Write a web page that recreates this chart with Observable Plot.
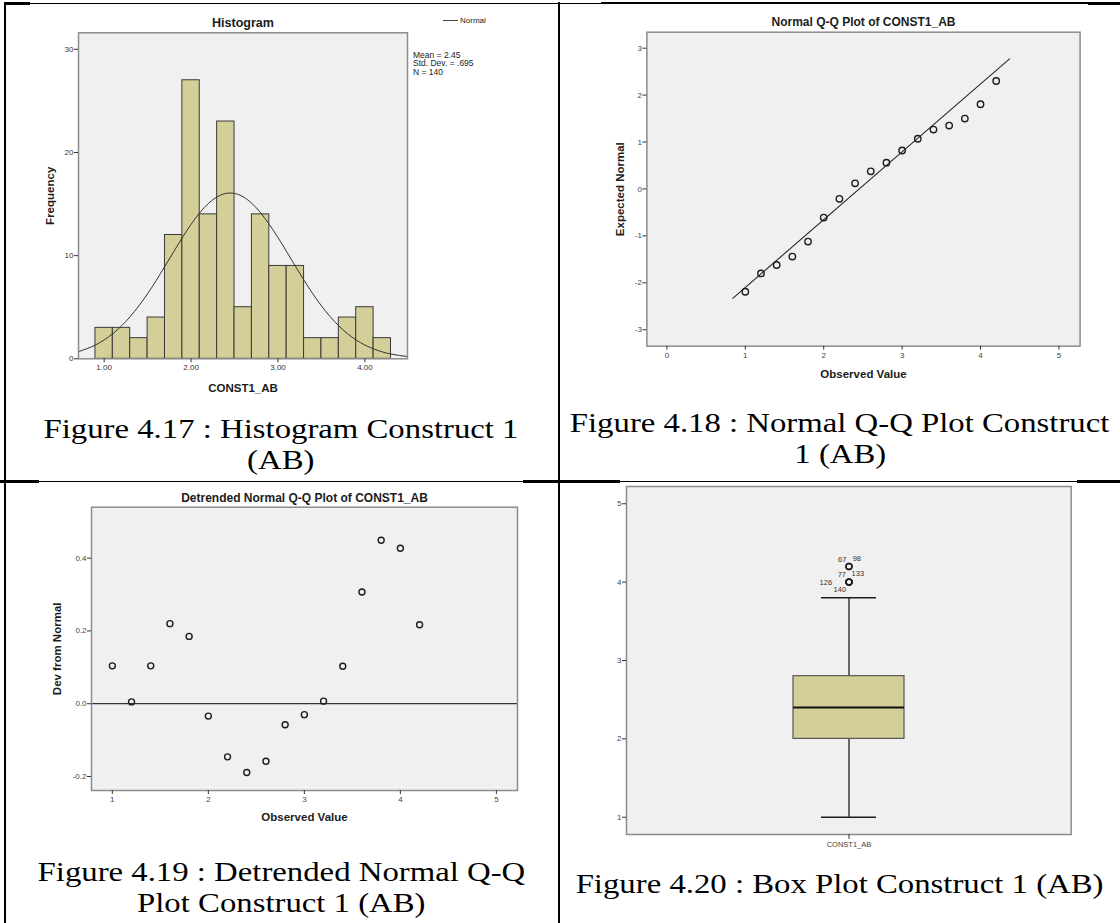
<!DOCTYPE html>
<html>
<head>
<meta charset="utf-8">
<script src="https://cdn.jsdelivr.net/npm/d3@7"></script>
<script src="https://cdn.jsdelivr.net/npm/@observablehq/plot@0.6"></script>
<style>
  html, body { margin: 0; padding: 0; background: #fff; }
  #page { position: relative; width: 1120px; height: 923px; overflow: hidden; background: #fff; }
  .cell { position: absolute; }
  .cell svg { overflow: visible; display: block; }
  .caption { position: absolute; width: 560px; text-align: center; white-space: nowrap;
             font-family: "Liberation Serif", "Times New Roman", serif; font-size: 28px; line-height: 31px; color: #000; }
  .caption span { display: inline-block; transform: scaleX(1.17); transform-origin: center; }
  .bd { position: absolute; background: #000; }
  .legend { position: absolute; font-family: "Liberation Sans", Arial, sans-serif; font-size: 8px; color: #222; }
</style>
</head>
<body>
<div id="page"></div>
<script>
// ---------------- DATA ----------------
// Figure 4.17 histogram
const histBinStart = [0.9, 1.1, 1.3, 1.5, 1.7, 1.9, 2.1, 2.3, 2.5, 2.7, 2.9, 3.1, 3.3, 3.5, 3.7, 3.9, 4.1];
const histBinEnd   = [1.1, 1.3, 1.5, 1.7, 1.9, 2.1, 2.3, 2.5, 2.7, 2.9, 3.1, 3.3, 3.5, 3.7, 3.9, 4.1, 4.3];
const histCounts   = [3, 3, 2, 4, 12, 27, 14, 23, 5, 14, 9, 9, 2, 2, 4, 5, 2];
const histXTicks   = [1, 2, 3, 4];
const histYTicks   = [0, 10, 20, 30];
// normal curve
const normalCurveX = [0.7, 0.9, 1.1, 1.3, 1.5, 1.7, 1.9, 2.1, 2.3, 2.5, 2.7, 2.9, 3.1, 3.3, 3.5, 3.7, 3.9, 4.1, 4.3, 4.5];
const normalCurveY = [0.68, 1.34, 2.44, 4.09, 6.31, 8.98, 11.75, 14.16, 15.70, 16.03, 15.06, 13.03, 10.38, 7.61, 5.13, 3.19, 1.82, 0.96, 0.46, 0.21];
const histStats = ["Mean = 2.45", "Std. Dev. = .695", "N = 140"];

// Figure 4.18 / 4.19 Q-Q data
const observedValue  = [1.0, 1.2, 1.4, 1.6, 1.8, 2.0, 2.2, 2.4, 2.6, 2.8, 3.0, 3.2, 3.4, 3.6, 3.8, 4.0, 4.2];
const expectedNormal = [-2.19, -1.80, -1.62, -1.44, -1.12, -0.61, -0.21, 0.12, 0.375, 0.56, 0.82, 1.07, 1.265, 1.35, 1.50, 1.805, 2.30];
const devFromNormal  = [0.104, 0.005, 0.104, 0.220, 0.185, -0.034, -0.146, -0.189, -0.158, -0.058, -0.030, 0.007, 0.103, 0.307, 0.449, 0.427, 0.217];
const qqLineX = [0.84, 4.37];
const qqLineY = [-2.33, 2.77];
const qqXTicks = [0, 1, 2, 3, 4, 5];
const qqYTicks = [-3, -2, -1, 0, 1, 2, 3];
const dtXTicks = [1, 2, 3, 4, 5];
const dtYTicks = [-0.2, 0.0, 0.2, 0.4];

// Figure 4.20 box plot
const boxCategory = ["CONST1_AB"];
const boxLow    = [1.0];
const boxQ1     = [2.0];
const boxMedian = [2.4];
const boxQ3     = [2.8];
const boxHigh   = [3.8];
const outlierValues = [4.2, 4.2, 4.0, 4.0, 4.0, 4.0];
const outlierIds    = ["67", "98", "77", "133", "126", "140"];
const boxYTicks = [1, 2, 3, 4, 5];

// ---------------- LAYOUT / STYLE ----------------
const page = document.getElementById("page");
const FONT = "'Liberation Sans', Arial, Helvetica, sans-serif";
const BG = "#f0f0f0";
const FRAME = "#8c8c8c";
const TAN = "#d4cf98";
const INK = "#1c1c1c";
const intFmt = d => (d < 0 ? "-" : "") + Math.abs(d).toFixed(0);
const oneFmt = d => (d < 0 ? "-" : "") + Math.abs(d).toFixed(1);

function place(el, left, top) {
  const d = document.createElement("div");
  d.className = "cell";
  d.style.left = left + "px";
  d.style.top = top + "px";
  d.appendChild(el);
  page.appendChild(d);
}
function caption(lines, cx, firstCenter) {
  const d = document.createElement("div");
  d.className = "caption";
  d.style.left = (cx - 280) + "px";
  d.style.top = (firstCenter - 15.5) + "px";
  lines.forEach((t, i) => {
    if (i) d.appendChild(document.createElement("br"));
    const s = document.createElement("span");
    s.textContent = t;
    d.appendChild(s);
  });
  page.appendChild(d);
}
function bar(x, y, w, h) {
  const d = document.createElement("div");
  d.className = "bd";
  Object.assign(d.style, {left: x + "px", top: y + "px", width: w + "px", height: h + "px"});
  page.appendChild(d);
}
const titleMark = (t, dy, size) => Plot.text([t], {text: d => d, frameAnchor: "top", dy, fontWeight: "bold", fontSize: size, textAnchor: "middle", lineAnchor: "middle", fill: INK});
const xLabelMark = (t, dy) => Plot.text([t], {text: d => d, frameAnchor: "bottom", dy, fontWeight: "bold", fontSize: 11.5, textAnchor: "middle", lineAnchor: "middle", fill: INK});
const yLabelMark = (t, dx) => Plot.text([t], {text: d => d, frameAnchor: "left", dx, rotate: -90, fontWeight: "bold", fontSize: 11.5, textAnchor: "middle", lineAnchor: "middle", fill: INK});
const baseStyle = {fontFamily: FONT, background: "transparent", overflow: "visible", color: "#333"};

// ---------------- Figure 4.17: Histogram ----------------
const histData = histCounts.map((c, i) => ({x0: histBinStart[i], x1: histBinEnd[i], count: c}));
const normalData = normalCurveX.map((x, i) => ({x, y: normalCurveY[i]}));
const hist = Plot.plot({
  width: 560, height: 400,
  marginLeft: 78, marginRight: 153, marginTop: 32.3, marginBottom: 41.7,
  style: baseStyle,
  x: {domain: [0.705, 4.49]},
  y: {domain: [0, 31.6]},
  marks: [
    Plot.frame({fill: BG, stroke: "none"}),
    Plot.rect(histData, {x1: "x0", x2: "x1", y1: 0, y2: "count", fill: TAN, stroke: "#3a3a3a", strokeWidth: 1}),
    Plot.line(normalData, {x: "x", y: "y", curve: "natural", stroke: "#333", strokeWidth: 1, clip: true}),
    Plot.frame({stroke: FRAME, strokeWidth: 1.5}),
    Plot.axisX({ticks: histXTicks, tickFormat: d => d.toFixed(2), tickSize: 4, tickPadding: 2, fontSize: 8, label: null, stroke: "#333", fill: "#333"}),
    Plot.axisY({ticks: histYTicks, tickFormat: intFmt, tickSize: 4, tickPadding: 1, fontSize: 8, label: null, stroke: "#333", fill: "#333"}),
    titleMark("Histogram", -9.6, 12.5),
    xLabelMark("CONST1_AB", 30),
    yLabelMark("Frequency", -28),
    Plot.text([histStats.join("\n")], {text: d => d, frameAnchor: "top-right", dx: 5.5, dy: 30.7, textAnchor: "start", lineAnchor: "middle", fontSize: 8.5, lineHeight: 1.03, fill: "#222"})
  ]
});
place(hist, 0, 0);
// legend "Normal"
(function () {
  const lg = document.createElement("div");
  lg.className = "legend";
  lg.style.left = "443px";
  lg.style.top = "15.5px";
  lg.innerHTML = '<span style="display:inline-block;width:15px;height:0;border-top:1px solid #444;vertical-align:middle;margin-right:2px"></span>Normal';
  page.appendChild(lg);
})();

// ---------------- Figure 4.18: Normal Q-Q ----------------
const qqData = observedValue.map((x, i) => ({x, y: expectedNormal[i]}));
const qqLine = qqLineX.map((x, i) => ({x, y: qqLineY[i]}));
const qq = Plot.plot({
  width: 560, height: 400,
  marginLeft: 86.4, marginRight: 40.4, marginTop: 31.7, marginBottom: 54.3,
  style: baseStyle,
  x: {domain: [-0.255, 5.27]},
  y: {domain: [-3.35, 3.34]},
  marks: [
    Plot.frame({fill: BG, stroke: "none"}),
    Plot.line(qqLine, {x: "x", y: "y", stroke: "#2a2a2a", strokeWidth: 1.1}),
    Plot.dot(qqData, {x: "x", y: "y", r: 3.2, stroke: INK, strokeWidth: 1.4, fill: "none"}),
    Plot.frame({stroke: FRAME, strokeWidth: 1.5}),
    Plot.axisX({ticks: qqXTicks, tickFormat: intFmt, tickSize: 4, tickPadding: 2, fontSize: 8, label: null, stroke: "#333", fill: "#444"}),
    Plot.axisY({ticks: qqYTicks, tickFormat: intFmt, tickSize: 4, tickPadding: 1, fontSize: 8, label: null, stroke: "#333", fill: "#444"}),
    titleMark("Normal Q-Q Plot of CONST1_AB", -10, 12),
    xLabelMark("Observed Value", 28.3),
    yLabelMark("Expected Normal", -26.4)
  ]
});
place(qq, 560, 0);

// ---------------- Figure 4.19: Detrended Normal Q-Q ----------------
const dtData = observedValue.map((x, i) => ({x, y: devFromNormal[i]}));
const dt = Plot.plot({
  width: 560, height: 360,
  marginLeft: 91, marginRight: 43, marginTop: 24.7, marginBottom: 52,
  style: baseStyle,
  x: {domain: [0.783, 5.22]},
  y: {domain: [-0.2385, 0.54]},
  marks: [
    Plot.frame({fill: BG, stroke: "none"}),
    Plot.ruleY([0], {stroke: "#333", strokeWidth: 1.2}),
    Plot.dot(dtData, {x: "x", y: "y", r: 3, stroke: INK, strokeWidth: 1.4, fill: "none"}),
    Plot.frame({stroke: FRAME, strokeWidth: 1.5}),
    Plot.axisX({ticks: dtXTicks, tickFormat: intFmt, tickSize: 4, tickPadding: 2, fontSize: 8, label: null, stroke: "#333", fill: "#444"}),
    Plot.axisY({ticks: dtYTicks, tickFormat: oneFmt, tickSize: 4, tickPadding: 1, fontSize: 8, label: null, stroke: "#333", fill: "#444"}),
    titleMark("Detrended Normal Q-Q Plot of CONST1_AB", -9, 12),
    xLabelMark("Observed Value", 26.7),
    yLabelMark("Dev from Normal", -34)
  ]
});
place(dt, 0, 482);

// ---------------- Figure 4.20: Box plot ----------------
const boxData = boxCategory.map((c, i) => ({c, low: boxLow[i], q1: boxQ1[i], med: boxMedian[i], q3: boxQ3[i], high: boxHigh[i]}));
const outliers = outlierValues.map((v, i) => ({c: boxCategory[0], v, id: outlierIds[i]}));
const labelOffset = {"67": [-6.8, -7], "98": [7.8, -7.7], "77": [-7.2, -7.3], "133": [8.8, -8.6], "126": [-23.2, 0.3], "140": [-9.2, 7.7]};
const bx = Plot.plot({
  width: 560, height: 380,
  marginLeft: 66, marginRight: 49.3, marginTop: 4, marginBottom: 28,
  style: baseStyle,
  x: {type: "band", domain: boxCategory, paddingInner: 0, paddingOuter: 1.5},
  y: {domain: [0.78, 5.22]},
  marks: [
    Plot.frame({fill: BG, stroke: "none"}),
    Plot.ruleX(boxData, {x: "c", y1: "low", y2: "q1", stroke: INK, strokeWidth: 1.3}),
    Plot.ruleX(boxData, {x: "c", y1: "q3", y2: "high", stroke: INK, strokeWidth: 1.3}),
    Plot.tickY(boxData, {x: "c", y: "low", insetLeft: 28, insetRight: 28, stroke: INK, strokeWidth: 1.4}),
    Plot.tickY(boxData, {x: "c", y: "high", insetLeft: 28, insetRight: 28, stroke: INK, strokeWidth: 1.4}),
    Plot.barY(boxData, {x: "c", y1: "q1", y2: "q3", fill: TAN, stroke: "#555", strokeWidth: 1.2, inset: 0}),
    Plot.tickY(boxData, {x: "c", y: "med", stroke: "#111", strokeWidth: 2}),
    Plot.dot(outliers, {x: "c", y: "v", r: 3, stroke: INK, strokeWidth: 1.4, fill: "none"}),
    ...outliers.map(o => Plot.text([o], {x: "c", y: "v", text: "id", dx: labelOffset[o.id][0], dy: labelOffset[o.id][1], fontSize: 7.5, fill: "#333", textAnchor: "middle", lineAnchor: "middle"})),
    Plot.frame({stroke: FRAME, strokeWidth: 1.5}),
    Plot.axisX({tickSize: 5, tickPadding: 2, fontSize: 7.5, label: null, stroke: "#333", fill: "#444"}),
    Plot.axisY({ticks: boxYTicks, tickFormat: intFmt, tickSize: 4, tickPadding: 1, fontSize: 8, label: null, stroke: "#333", fill: "#444"})
  ]
});
place(bx, 560, 482);

// ---------------- Captions ----------------
caption(["Figure 4.17 : Histogram Construct 1", "(AB)"], 281, 428);
caption(["Figure 4.18 : Normal Q-Q Plot Construct", "1 (AB)"], 840, 422);
caption(["Figure 4.19 : Detrended Normal Q-Q", "Plot Construct 1 (AB)"], 281, 871);
caption(["Figure 4.20 : Box Plot Construct 1 (AB)"], 840, 883);

// ---------------- Table borders ----------------
bar(4, 2, 26, 3); bar(30, 2.5, 571, 1.5); bar(601, 2, 487, 1.5); bar(1088, 2, 32, 3);
bar(4, 2, 2, 921);
bar(557.5, 2, 2.5, 921);
bar(0, 480, 39, 3); bar(39, 480.5, 484, 1.5); bar(523, 480, 97, 3); bar(610, 480.5, 467, 1.5); bar(1077, 480, 43, 3);
</script>
</body>
</html>
